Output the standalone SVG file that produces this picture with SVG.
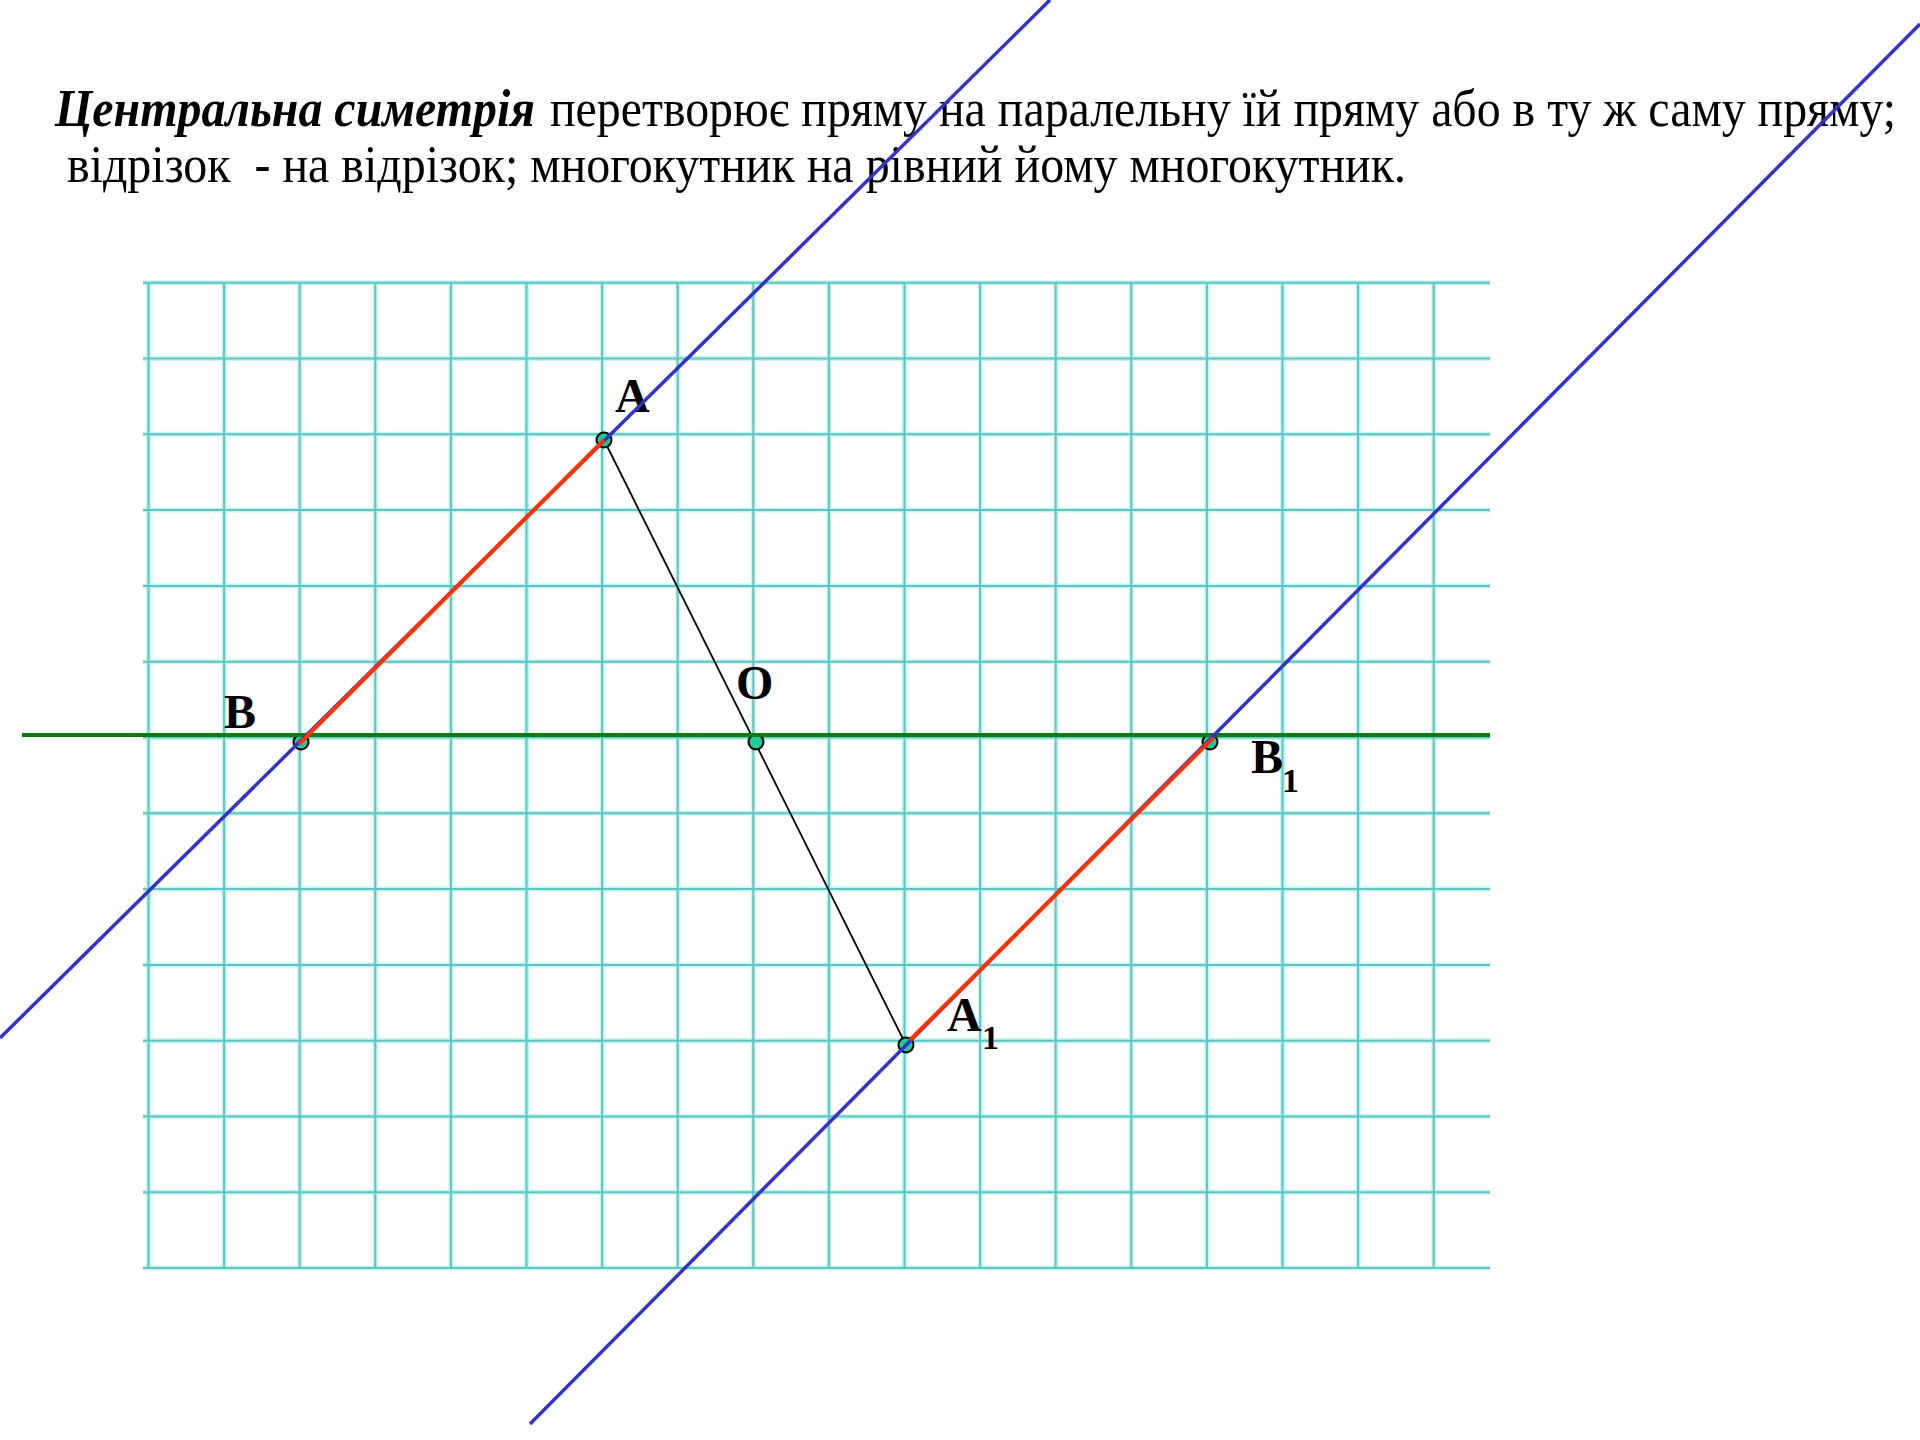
<svg xmlns="http://www.w3.org/2000/svg" width="1920" height="1440" viewBox="0 0 1920 1440">
<style>
.title{font-family:"Liberation Serif","Times New Roman",serif;font-size:52px;fill:#000}
.lbl{font-family:"Liberation Serif","Times New Roman",serif;font-size:48px;font-weight:bold;fill:#000}
.sub{font-family:"Liberation Serif","Times New Roman",serif;font-size:34px;font-weight:bold;fill:#000}
.gh{stroke:#c2f6f2;stroke-width:5}
.gc{stroke:#62c4c0;stroke-width:2}
.pt{fill:#1fc99b;stroke:#000;stroke-width:2}
</style>
<rect width="1920" height="1440" fill="#fff"/>
<g id="title">
<text class="title" x="55" y="126" font-weight="bold" font-style="italic" textLength="480" lengthAdjust="spacingAndGlyphs">Центральна симетрія</text>
<text class="title" x="550" y="126" textLength="1346" lengthAdjust="spacingAndGlyphs">перетворює пряму на паралельну їй пряму або в ту ж саму пряму;</text>
<text class="title" x="67" y="182" textLength="1339" lengthAdjust="spacingAndGlyphs" xml:space="preserve">відрізок  - на відрізок; многокутник на рівний йому многокутник.</text>
</g>
<g id="grid">
<g class="gh">
<path d="M143 282.7H1490M143 358.5H1490M143 434.3H1490M143 510.1H1490M143 585.9H1490M143 661.7H1490M143 737.5H1490M143 813.3H1490M143 889.1H1490M143 964.9H1490M143 1040.7H1490M143 1116.5H1490M143 1192.3H1490M143 1268.1H1490"/>
<path d="M148.5 282V1268M224.1 282V1268M299.7 282V1268M375.3 282V1268M450.9 282V1268M526.5 282V1268M602.1 282V1268M677.7 282V1268M753.3 282V1268M828.9 282V1268M904.5 282V1268M980.1 282V1268M1055.7 282V1268M1131.3 282V1268M1206.9 282V1268M1282.5 282V1268M1358.1 282V1268M1433.7 282V1268"/>
</g>
<g class="gc">
<path d="M143 282.7H1490M143 358.5H1490M143 434.3H1490M143 510.1H1490M143 585.9H1490M143 661.7H1490M143 737.5H1490M143 813.3H1490M143 889.1H1490M143 964.9H1490M143 1040.7H1490M143 1116.5H1490M143 1192.3H1490M143 1268.1H1490"/>
<path d="M148.5 282V1268M224.1 282V1268M299.7 282V1268M375.3 282V1268M450.9 282V1268M526.5 282V1268M602.1 282V1268M677.7 282V1268M753.3 282V1268M828.9 282V1268M904.5 282V1268M980.1 282V1268M1055.7 282V1268M1131.3 282V1268M1206.9 282V1268M1282.5 282V1268M1358.1 282V1268M1433.7 282V1268"/>
</g>
</g>
<g id="connectors">
<line x1="604" y1="440" x2="906" y2="1045" stroke="#000" stroke-width="1.8"/>
</g>
<g id="A"><circle class="pt" cx="604" cy="440" r="7.5"/><text class="lbl" x="615" y="412">A</text></g>
<g id="B"><circle class="pt" cx="301" cy="742" r="7.5"/><text class="lbl" x="224" y="728">B</text></g>
<g id="O"><circle class="pt" cx="756" cy="742" r="7.5"/><text class="lbl" x="736" y="699">O</text></g>
<g id="B1"><circle class="pt" cx="1210" cy="742" r="7.5"/><text class="lbl" x="1251" y="773">B</text><text class="sub" x="1282" y="792">1</text></g>
<g id="A1"><circle class="pt" cx="906" cy="1045" r="7.5"/><text class="lbl" x="947" y="1031">A</text><text class="sub" x="982" y="1049">1</text></g>
<g id="lines">
<line x1="22" y1="735" x2="1490" y2="735" stroke="#0b7d0b" stroke-width="4"/>
<line x1="0" y1="1038" x2="1050" y2="0" stroke="#3333cc" stroke-width="3.5"/>
<line x1="530" y1="1424" x2="1920" y2="24" stroke="#3333cc" stroke-width="3.5"/>
<line x1="299" y1="744" x2="604" y2="440" stroke="#ff3300" stroke-width="4"/>
<line x1="910" y1="1040" x2="1213" y2="738" stroke="#ff3300" stroke-width="4"/>
</g>
</svg>
